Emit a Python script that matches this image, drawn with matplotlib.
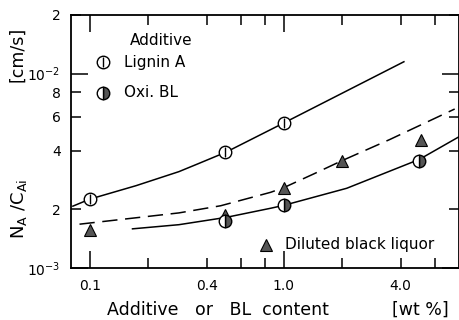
import matplotlib
matplotlib.use("Agg")
import matplotlib.pyplot as plt
from matplotlib.ticker import FixedLocator, FixedFormatter

# ---- data ----
lignin_x = [0.1, 0.5, 1.0]
lignin_y = [2.26e-3, 3.94e-3, 5.57e-3]
oxi_x = [0.5, 1.0, 5.0]
oxi_y = [1.75e-3, 2.10e-3, 3.54e-3]
dbl_x = [0.1, 0.5, 1.0, 2.0, 5.07]
dbl_y = [1.56e-3, 1.87e-3, 2.58e-3, 3.56e-3, 4.57e-3]

# fitted curves
lig_curve_x = [0.0818, 0.1, 0.173, 0.288, 0.360, 0.503, 1.0, 4.16]
lig_curve_y = [2.08e-3, 2.26e-3, 2.65e-3, 3.13e-3, 3.43e-3, 3.94e-3, 5.57e-3, 1.15e-2]
dash_curve_x = [0.0885, 0.288, 0.473, 0.855, 1.0, 1.43, 1.99, 3.52, 7.60]
dash_curve_y = [1.68e-3, 1.92e-3, 2.09e-3, 2.45e-3, 2.59e-3, 3.05e-3, 3.56e-3, 4.58e-3, 6.57e-3]
oxi_curve_x = [0.166, 0.288, 0.503, 0.858, 1.0, 2.11, 5.0, 8.06]
oxi_curve_y = [1.59e-3, 1.67e-3, 1.82e-3, 2.03e-3, 2.10e-3, 2.57e-3, 3.62e-3, 4.75e-3]

x_major = [0.1, 1.0]
x_major_labels = ["0.1", "1.0"]
x_minor = [0.2, 0.4, 0.6, 0.8, 2.0, 4.0, 6.0]
x_minor_labels = ["", "0.4", "", "", "", "4.0", ""]
y_major = [1e-3, 1e-2]
y_major_labels = [r"10$^{-3}$", r"10$^{-2}$"]
y_minor = [2e-3, 4e-3, 6e-3, 8e-3, 2e-2]
y_minor_labels = ["2", "4", "6", "8", "2"]

plt.rcParams['font.family'] = ['DejaVu Sans']
plt.rcParams['mathtext.default'] = 'regular'

fig = plt.figure(figsize=(4.6, 3.2), dpi=100)
ax = fig.add_axes([71/460, 52/320, 388/460, 253/320])
ax.set_xscale('log')
ax.set_yscale('log')
ax.set_xlim(0.08, 8.0)
ax.set_ylim(1e-3, 2e-2)

lw = 1.1
ax.plot(lig_curve_x, lig_curve_y, color='black', lw=lw, zorder=2)
ax.plot(dash_curve_x, dash_curve_y, color='black', lw=lw, dashes=(10, 5), zorder=2)
ax.plot(oxi_curve_x, oxi_curve_y, color='black', lw=lw, zorder=2)

ms = 9
gray = '#555555'
ax.plot(dbl_x, dbl_y, '^', ms=ms, mfc=gray, mec='black', mew=0.8, ls='none', zorder=3)
ax.plot(oxi_x, oxi_y, 'o', ms=ms, fillstyle='right', mfc=gray, mfcalt='white',
        mec='black', mew=1.0, ls='none', zorder=4)
ax.plot(lignin_x, lignin_y, 'o', ms=ms, mfc='white', mec='black', mew=1.0, ls='none', zorder=4)
ax.plot(lignin_x, lignin_y, '|', ms=ms*0.85, mec='black', mew=1.0, ls='none', zorder=5)

# legend-like annotations
fs_leg = 11
ax.text(0.152, 0.901, "Additive", transform=ax.transAxes, fontsize=fs_leg, va='center', ha='left')
ax.plot([0.082], [0.814], 'o', ms=ms, mfc='white', mec='black', mew=1.0, transform=ax.transAxes, clip_on=False)
ax.plot([0.082], [0.814], '|', ms=ms*0.85, mec='black', mew=1.0, transform=ax.transAxes, clip_on=False)
ax.text(0.137, 0.814, "Lignin A", transform=ax.transAxes, fontsize=fs_leg, va='center', ha='left')
ax.plot([0.082], [0.692], 'o', ms=ms, fillstyle='right', mfc=gray, mfcalt='white', mec='black', mew=1.0,
        transform=ax.transAxes, clip_on=False)
ax.text(0.137, 0.692, "Oxi. BL", transform=ax.transAxes, fontsize=fs_leg, va='center', ha='left')
ax.plot([0.503], [0.091], '^', ms=ms, mfc=gray, mec='black', mew=0.8, transform=ax.transAxes, clip_on=False)
ax.text(0.552, 0.091, "Diluted black liquor", transform=ax.transAxes, fontsize=fs_leg, va='center', ha='left')

# ticks
ax.xaxis.set_major_locator(FixedLocator(x_major))
ax.xaxis.set_major_formatter(FixedFormatter(x_major_labels))
ax.xaxis.set_minor_locator(FixedLocator(x_minor))
ax.xaxis.set_minor_formatter(FixedFormatter(x_minor_labels))
ax.yaxis.set_major_locator(FixedLocator(y_major))
ax.yaxis.set_major_formatter(FixedFormatter(y_major_labels))
ax.yaxis.set_minor_locator(FixedLocator(y_minor))
ax.yaxis.set_minor_formatter(FixedFormatter(y_minor_labels))

ax.tick_params(which='both', direction='in', top=True, right=True, width=1.1, labelsize=10)
ax.tick_params(which='major', length=12)
ax.tick_params(which='minor', length=7)
ax.tick_params(axis='x', which='both', pad=8)
ax.tick_params(axis='y', which='both', pad=7.5)
for s in ax.spines.values():
    s.set_linewidth(1.3)

fig.text(218/460, 1 - 310/320, "Additive   or   BL  content", fontsize=12.5, ha='center', va='center')
fig.text(420/460, 1 - 310/320, "[wt %]", fontsize=12.5, ha='center', va='center')
fig.text(19/460, 1 - 209/320, r"N$_{A}$ /C$_{Ai}$", fontsize=13, rotation=90, ha='center', va='center')
fig.text(17/460, 1 - 54/320, "[cm/s]", fontsize=12.5, rotation=90, ha='center', va='center')

fig.savefig("out.png", dpi=100)
